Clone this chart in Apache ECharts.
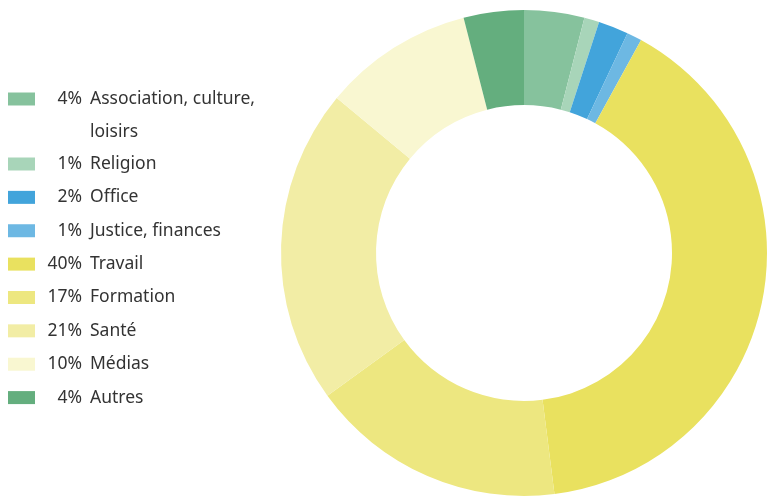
<!DOCTYPE html>
<html>
<head>
<meta charset="utf-8">
<script src="https://cdn.jsdelivr.net/npm/echarts@6/dist/echarts.min.js"></script>
<style>html,body{margin:0;padding:0;background:#fff}#c{width:768px;height:498px}</style>
</head>
<body>
<div id="c"></div>
<script>
const categories = ['Association, culture, loisirs', 'Religion', 'Office', 'Justice, finances', 'Travail', 'Formation', 'Santé', 'Médias', 'Autres'];
const values = [4, 1, 2, 1, 40, 17, 21, 10, 4];
const colors = ['#86c29d', '#a8d5b9', '#42a4db', '#6db8e3', '#e9e15f', '#ede780', '#f2eda5', '#f9f7d1', '#64ae7e'];

const FONT_FAMILY = '"Noto Sans", sans-serif';
const FONT_SIZE = 17.5;
const TEXT_COLOR = '#333';
const PCT_W = 42;
const ctx = document.createElement('canvas').getContext('2d');
ctx.font = FONT_SIZE + 'px ' + FONT_FAMILY;

function baseStyle(extra) {
  return Object.assign({ fontFamily: FONT_FAMILY, fontSize: FONT_SIZE, color: TEXT_COLOR }, extra || {});
}
const rich1 = {
  n: baseStyle({ lineHeight: 33, padding: [0, 0, 0, 8] }),
  s: baseStyle({ lineHeight: 33, width: PCT_W })
};
const rich2 = {
  n: baseStyle({ padding: [0, 0, 0, 8] })
};
categories.forEach(function (c, i) {
  const t = values[i] + '%';
  const w = ctx.measureText(t).width;
  const pad = Math.max(0, PCT_W - w);
  rich1['p' + i] = baseStyle({ lineHeight: 33, padding: [0, 0, 0, pad] });
  rich2['p' + i] = baseStyle({ padding: [0, 0, 0, pad] });
});

function fmt(name) {
  const i = categories.indexOf(name);
  const pct = '{p' + i + '|' + values[i] + '%}';
  if (i === 0) {
    return '{s| }\n' + pct + '{n|Association, culture,}\n{s| }{n|loisirs}';
  }
  return pct + '{n|' + name + '}';
}

const legendCommon = {
  orient: 'vertical',
  left: 8,
  padding: 0,
  itemWidth: 27,
  itemHeight: 13,
  itemStyle: { borderWidth: 0 },
  icon: 'rect',
  selectedMode: false,
  formatter: fmt
};

const chart = echarts.init(document.getElementById('c'), null, { renderer: 'canvas' });
chart.setOption({
  animation: false,
  color: colors,
  legend: [
    Object.assign({}, legendCommon, {
      top: 57,
      data: categories.slice(0, 1),
      textStyle: baseStyle({ rich: rich1 })
    }),
    Object.assign({}, legendCommon, {
      top: 155,
      itemGap: 15.37,
      data: categories.slice(1),
      textStyle: baseStyle({ rich: rich2 })
    })
  ],
  series: [{
    type: 'pie',
    center: [524, 253],
    radius: [148, 243],
    startAngle: 90,
    clockwise: true,
    label: { show: false },
    labelLine: { show: false },
    emphasis: { disabled: true },
    itemStyle: { borderWidth: 0 },
    data: categories.map(function (c, i) { return { name: c, value: values[i] }; })
  }]
});
</script>
</body>
</html>
